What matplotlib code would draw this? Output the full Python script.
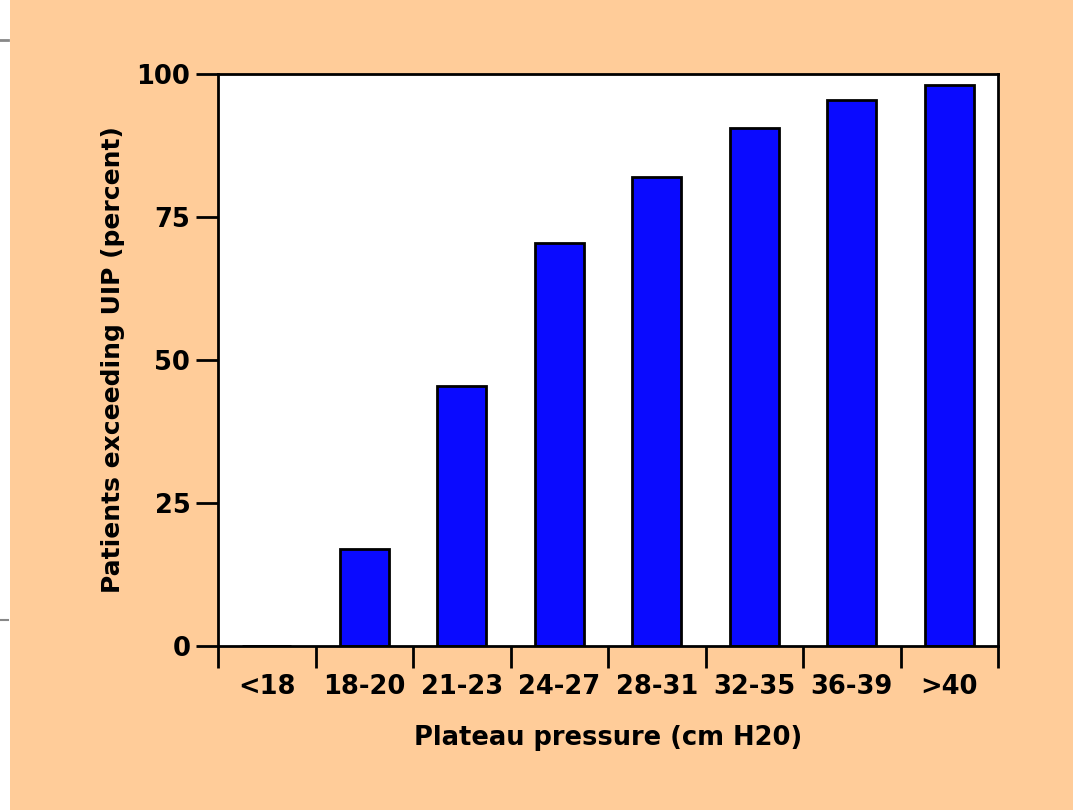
import matplotlib
matplotlib.use("Agg")
import matplotlib.pyplot as plt
import numpy as np
from matplotlib.patches import Rectangle
from matplotlib.lines import Line2D

# plateau pressure bins and share of patients above the UIP
categories = ['<18', '18-20', '21-23', '24-27', '28-31', '32-35', '36-39', '>40']
percent = [0, 17, 45.5, 70.5, 82, 90.5, 95.5, 98]
y_ticks = [0, 25, 50, 75, 100]

peach = '#FFCC99'
blue = '#0A0AFF'

fig = plt.figure(figsize=(10.73, 8.10), dpi=100, facecolor=peach)
ax = fig.add_axes([0.2032, 0.2025, 0.7269, 0.7061])
ax.set_facecolor('white')

x = np.arange(len(categories)) + 0.5
ax.bar(x, percent, width=0.5, color=blue, edgecolor='black', linewidth=2, zorder=2)

ax.set_xlim(0, len(categories))
ax.set_ylim(0, 100)

# boundary ticks without labels, labels on the bin centres
ax.set_xticks(np.arange(len(categories) + 1))
ax.set_xticklabels([])
ax.set_xticks(x, minor=True)
ax.set_xticklabels(categories, minor=True)
ax.tick_params(axis='x', which='major', direction='out', length=16, width=2)
ax.tick_params(axis='x', which='minor', length=0, pad=20)
ax.set_yticks(y_ticks)
ax.tick_params(axis='y', direction='out', length=16, width=2, pad=4)

for lab in ax.get_xticklabels(minor=True) + ax.get_yticklabels():
    lab.set_fontsize(18.5)
    lab.set_fontweight('bold')

for s in ax.spines.values():
    s.set_linewidth(2)
    s.set_color('black')

ax.set_xlabel('Plateau pressure (cm H20)', fontsize=18.5, fontweight='bold', labelpad=18)
ax.set_ylabel('Patients exceeding UIP (percent)', fontsize=18, fontweight='bold', labelpad=8)

# white strip at the left edge of the screenshot
fig.patches.append(Rectangle((0, 0), 10 / 1073, 1, transform=fig.transFigure,
                             facecolor='white', edgecolor='none'))
fig.lines.append(Line2D([0, 8 / 1073], [1 - 40 / 810] * 2, transform=fig.transFigure,
                        color='#888888', linewidth=2))
fig.lines.append(Line2D([0, 8 / 1073], [1 - 620 / 810] * 2, transform=fig.transFigure,
                        color='#888888', linewidth=1.5))

fig.savefig('out.png', dpi=100, facecolor=peach)
